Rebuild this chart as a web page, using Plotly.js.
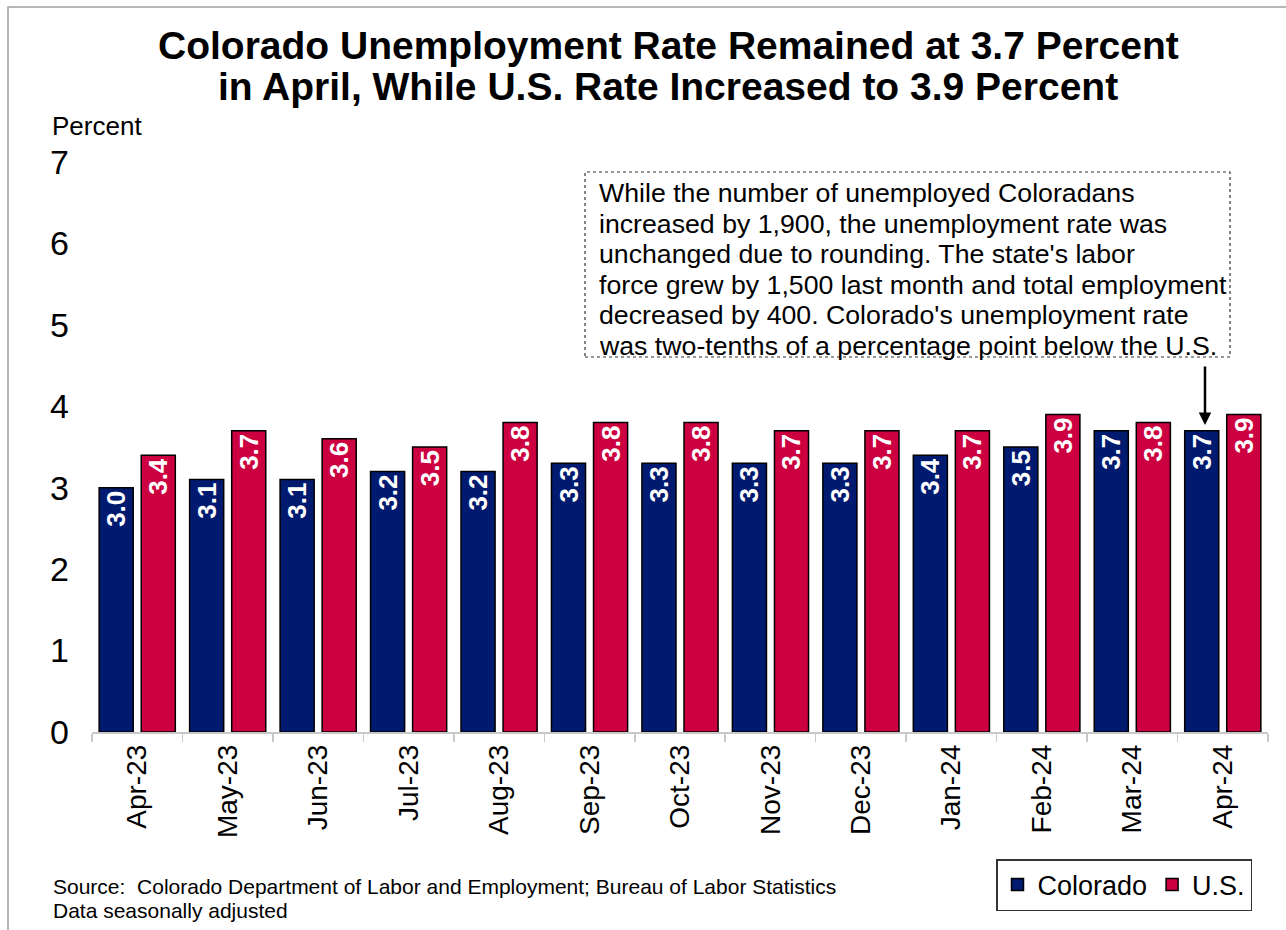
<!DOCTYPE html>
<html>
<head>
<meta charset="utf-8">
<script src="https://cdn.plot.ly/plotly-3.0.1.min.js"></script>
<style>html,body{margin:0;padding:0;background:#fff}#chart{width:1286px;height:930px}</style>
</head>
<body>
<div id="chart"></div>
<script>
const months = ["Apr-23","May-23","Jun-23","Jul-23","Aug-23","Sep-23","Oct-23","Nov-23","Dec-23","Jan-24","Feb-24","Mar-24","Apr-24"];
const colorado = [3.0,3.1,3.1,3.2,3.2,3.3,3.3,3.3,3.3,3.4,3.5,3.7,3.7];
const us = [3.4,3.7,3.6,3.5,3.8,3.8,3.8,3.7,3.7,3.7,3.9,3.8,3.9];
const yTicks = [0,1,2,3,4,5,6,7];
const titleLines = ["Colorado Unemployment Rate Remained at 3.7 Percent","in April, While U.S. Rate Increased to 3.9 Percent"];
const noteLines = [
  "While the number of unemployed Coloradans",
  "increased by 1,900, the unemployment rate was",
  "unchanged due to rounding. The state's labor",
  "force grew by 1,500 last month and total employment",
  "decreased by 400. Colorado's unemployment rate",
  "was two-tenths of a percentage point below the U.S."
];
const sourceLines = ["Source:  Colorado Department of Labor and Employment; Bureau of Labor Statistics","Data seasonally adjusted"];

const FONT = "Liberation Sans, Arial, sans-serif";
const L = 92, R = 1268, T = 162, B = 732;
const px = x => (x - L) / (R - L);
const py = y => (B - y) / (B - T);

const barCommon = {
  type: "bar",
  x: months,
  texttemplate: "%{y:.1f}",
  textposition: "inside",
  insidetextanchor: "end",
  textangle: -90,
  constraintext: "none",
  textfont: {family: FONT, size: 26, color: "#ffffff", weight: "bold"},
  hoverinfo: "skip"
};
const traces = [
  Object.assign({}, barCommon, {name: "Colorado", y: colorado, marker: {color: "#001a70", line: {color: "#000000", width: 1.5}}}),
  Object.assign({}, barCommon, {name: "U.S.", y: us, marker: {color: "#cc0040", line: {color: "#000000", width: 1.5}}})
];

const annotations = [];
titleLines.forEach((t, i) => annotations.push({
  xref: "paper", yref: "paper", x: px(668), y: py([45, 86][i]), xanchor: "center", yanchor: "middle",
  text: "<b>" + t + "</b>", showarrow: false, font: {family: FONT, size: 39, color: "#000"}
}));
noteLines.forEach((t, i) => annotations.push({
  xref: "paper", yref: "paper", x: px(597), y: py(193 + i * 30.6), xanchor: "left", yanchor: "middle",
  text: t, showarrow: false, font: {family: FONT, size: 26.7, color: "#000"}
}));
sourceLines.forEach((t, i) => annotations.push({
  xref: "paper", yref: "paper", x: px(51), y: py(886 + i * 24), xanchor: "left", yanchor: "middle",
  text: t, showarrow: false, font: {family: FONT, size: 21, color: "#000"}
}));
annotations.push({
  xref: "paper", yref: "paper", x: px(50), y: py(126), xanchor: "left", yanchor: "middle",
  text: "Percent", showarrow: false, font: {family: FONT, size: 26, color: "#000"}
});
annotations.push({
  xref: "paper", yref: "paper", x: px(1205), y: py(425), ax: 0, ay: -60,
  text: "", showarrow: true, arrowhead: 2, arrowsize: 1, arrowwidth: 2.5, arrowcolor: "#000"
});

const shapes = [
  {type: "rect", xref: "paper", yref: "paper", x0: px(585), x1: px(1230), y0: py(357), y1: py(172),
   line: {color: "#333", width: 1.2, dash: "dot"}, fillcolor: "rgba(0,0,0,0)"},
  {type: "rect", xref: "paper", yref: "paper", x0: px(8), x1: px(1300), y0: py(945), y1: py(7),
   line: {color: "#a0a0a0", width: 1.5}, fillcolor: "rgba(0,0,0,0)", layer: "below"}
];

const layout = {
  width: 1286, height: 930,
  margin: {l: L, r: 1286 - R, t: T, b: 930 - B, pad: 0},
  paper_bgcolor: "#fff", plot_bgcolor: "#fff",
  font: {family: FONT, color: "#000"},
  barmode: "group", bargap: 0.07, bargroupgap: 0.19,
  showlegend: true,
  legend: {orientation: "h", x: px(1252), xanchor: "right", y: py(911), yanchor: "bottom",
    bordercolor: "#333", borderwidth: 1.5, font: {family: FONT, size: 27, color: "#000"},
    bgcolor: "#fff", itemwidth: 30, tracegroupgap: 0},
  xaxis: {
    type: "category", showgrid: false, showline: true, linecolor: "#c8c8c8", linewidth: 1.5,
    ticks: "outside", tickson: "boundaries", ticklen: 8, tickcolor: "#c8c8c8", tickwidth: 1.5,
    tickangle: -90, tickfont: {family: FONT, size: 28, color: "#000"}, fixedrange: true
  },
  yaxis: {
    range: [0, 7], tickvals: yTicks, ticktext: yTicks.map(String), showgrid: false, zeroline: false,
    showline: false, ticks: "", tickfont: {family: FONT, size: 34, color: "#000"},
    ticklabelstandoff: 22, fixedrange: true
  },
  annotations: annotations,
  shapes: shapes
};

Plotly.newPlot("chart", traces, layout, {staticPlot: true, displayModeBar: false});
</script>
</body>
</html>
